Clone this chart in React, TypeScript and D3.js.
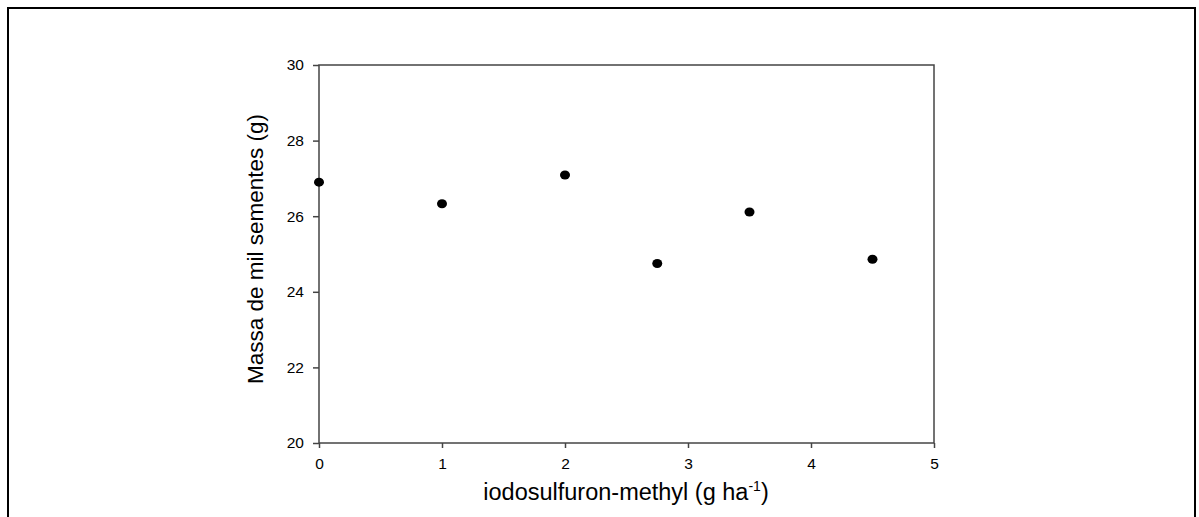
import * as d3 from 'd3';
import { useEffect, useRef } from 'react';

// dose de iodosulfuron-methyl (g/ha) e massa de mil sementes (g)
const doses = [0, 1, 2, 2.75, 3.5, 4.5];
const massa = [26.9, 26.33, 27.09, 24.75, 26.11, 24.86];

const xTicks = [0, 1, 2, 3, 4, 5];
const yTicks = [20, 22, 24, 26, 28, 30];

const W = 1199;
const H = 517;

export default function App() {
    const ref = useRef<SVGSVGElement>(null);

    useEffect(() => {
        const svg = d3.select(ref.current);
        svg.selectAll('*').remove();

        const font = '"Liberation Sans", Arial, sans-serif';
        const left = 319, right = 934, top = 65, bottom = 443;

        const x = d3.scaleLinear().domain([0, 5]).range([left, right]);
        const y = d3.scaleLinear().domain([20, 30]).range([bottom, top]);

        // moldura externa
        svg.append('rect')
            .attr('x', 8)
            .attr('y', 8)
            .attr('width', 1187)
            .attr('height', 530)
            .attr('fill', 'none')
            .attr('stroke', '#000')
            .attr('stroke-width', 2);

        // caixa do grafico
        svg.append('rect')
            .attr('x', left)
            .attr('y', top)
            .attr('width', right - left)
            .attr('height', bottom - top)
            .attr('fill', 'none')
            .attr('stroke', '#444')
            .attr('stroke-width', 1.5);

        const yAxis = svg.append('g')
            .attr('transform', `translate(${left},0)`)
            .call(d3.axisLeft(y).tickValues(yTicks).tickSize(6).tickPadding(9).tickFormat(d3.format('d')));
        yAxis.select('.domain').remove();
        yAxis.selectAll('line').attr('stroke', '#444').attr('stroke-width', 1.5);
        yAxis.selectAll('text')
            .attr('fill', '#000')
            .style('font-family', font)
            .style('font-size', '15.5px');

        const xAxis = svg.append('g')
            .attr('transform', `translate(0,${bottom})`)
            .call(d3.axisBottom(x).tickValues(xTicks).tickSize(5).tickPadding(10).tickFormat(d3.format('d')));
        xAxis.select('.domain').remove();
        xAxis.selectAll('line').attr('stroke', '#444').attr('stroke-width', 1.5);
        xAxis.selectAll('text')
            .attr('fill', '#000')
            .style('font-family', font)
            .style('font-size', '15.5px');

        // pontos
        svg.selectAll('.dot')
            .data(doses)
            .join('ellipse')
            .attr('class', 'dot')
            .attr('cx', d => x(d))
            .attr('cy', (d, i) => y(massa[i]))
            .attr('rx', 5)
            .attr('ry', 4.5)
            .attr('fill', '#000');

        // titulos dos eixos
        const xt = svg.append('text')
            .attr('x', 626)
            .attr('y', 500)
            .attr('text-anchor', 'middle')
            .style('font-family', font)
            .style('font-size', '23.5px');
        xt.append('tspan').text('iodosulfuron-methyl (g ha');
        xt.append('tspan').attr('dy', -9).style('font-size', '14px').text('-1');
        xt.append('tspan').attr('dy', 9).text(')');

        svg.append('text')
            .attr('transform', `translate(263,249) rotate(-90)`)
            .attr('text-anchor', 'middle')
            .style('font-family', font)
            .style('font-size', '22.5px')
            .text('Massa de mil sementes (g)');
    }, []);

    return (
        <svg
            ref={ref}
            width={W}
            height={H}
            style={{ position: 'absolute', left: 0, top: 0, background: '#fff' }}
        />
    );
}
